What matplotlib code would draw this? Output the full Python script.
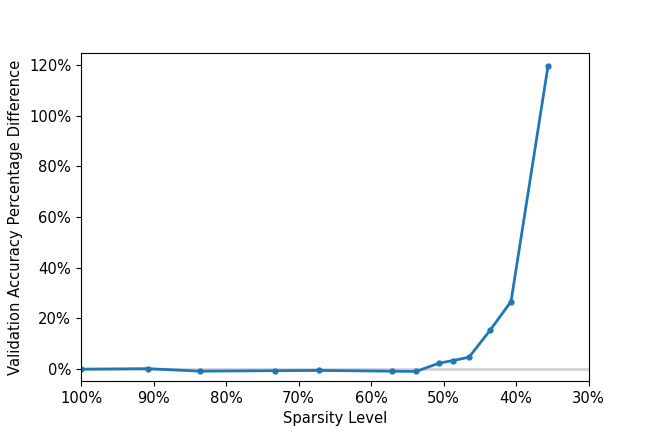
import numpy as np
import matplotlib
matplotlib.use("Agg")
import matplotlib.pyplot as plt
from matplotlib.ticker import FuncFormatter

# sparsity level (%) and validation accuracy difference (%)
sparsity = [100.0, 90.8, 83.6, 73.3, 67.2, 57.1, 53.8, 50.6, 48.7, 46.5, 43.6, 40.7, 35.6]
acc_diff = [0.0, 0.2, -0.8, -0.6, -0.5, -0.8, -0.9, 2.4, 3.4, 4.7, 15.3, 26.7, 119.6]

plt.rcParams["font.size"] = 10.6

fig = plt.figure(figsize=(6.54, 4.36), dpi=100)
ax = fig.add_axes([0.124, 0.126, 0.776, 0.752])

ax.axhline(0, color="lightgray", linewidth=2, zorder=1)
ax.plot(sparsity, acc_diff, marker=".", color="tab:blue", linewidth=2, markersize=7, zorder=2)

ax.set_xlim(100, 30)
ax.set_ylim(-4.7, 124.7)
ax.set_xticks(np.arange(100, 29, -10))
ax.set_yticks(np.arange(0, 121, 20))
pct = FuncFormatter(lambda v, _: f"{v:.0f}%")
ax.xaxis.set_major_formatter(pct)
ax.yaxis.set_major_formatter(pct)

ax.set_xlabel("Sparsity Level")
ax.set_ylabel("Validation Accuracy Percentage Difference")

fig.savefig("out.png", dpi=100)
plt.close(fig)
